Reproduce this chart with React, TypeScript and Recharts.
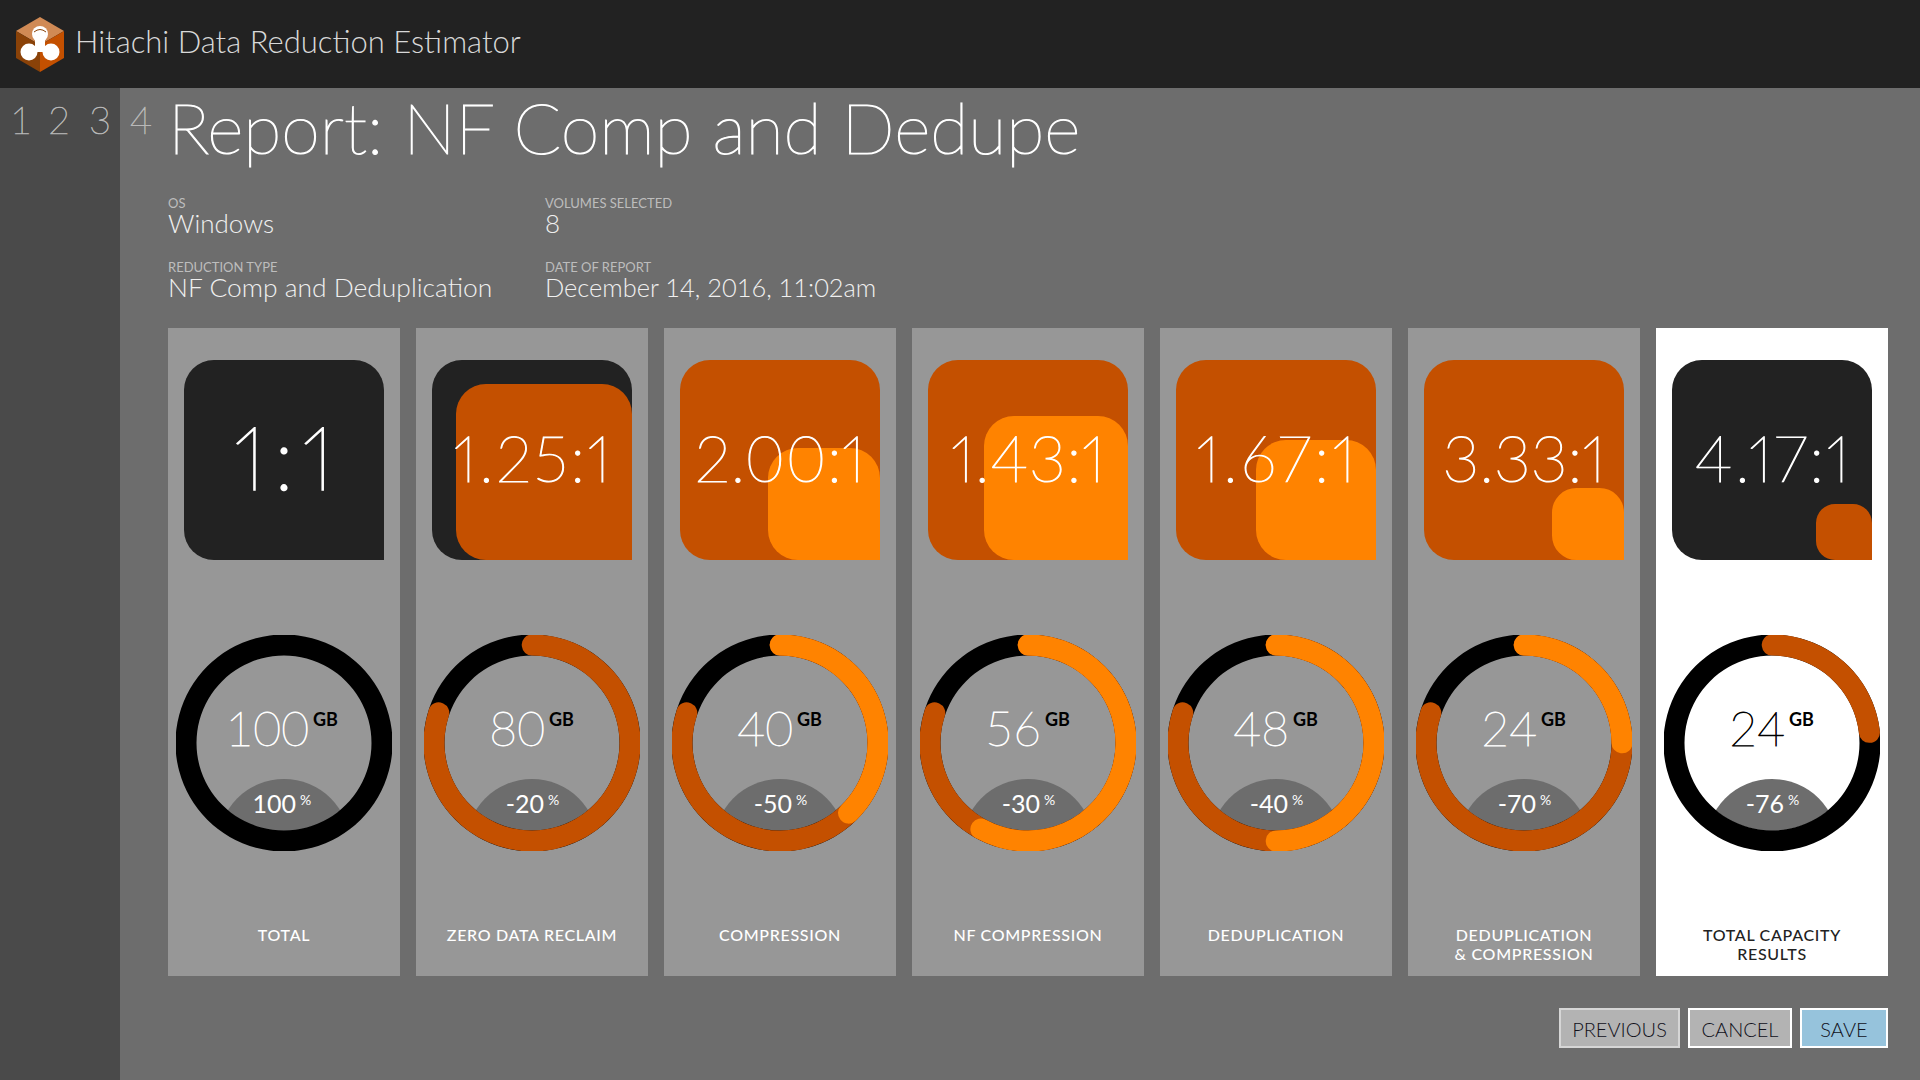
import { BarChart, Bar, XAxis, YAxis, RadialBarChart, RadialBar, PolarAngleAxis, Sector } from 'recharts'

const panelNames = [
  ['TOTAL'],
  ['ZERO DATA RECLAIM'],
  ['COMPRESSION'],
  ['NF COMPRESSION'],
  ['DEDUPLICATION'],
  ['DEDUPLICATION', '& COMPRESSION'],
  ['TOTAL CAPACITY', 'RESULTS'],
]
const ratioLabels = ['1:1', '1.25:1', '2.00:1', '1.43:1', '1.67:1', '3.33:1', '4.17:1']
const gbLabels = ['100', '80', '40', '56', '48', '24', '24']
const pctLabels = ['100', '-20', '-50', '-30', '-40', '-70', '-76']

// square sides, 200 = the whole square
const squareOuter = [200, 200, 200, 200, 200, 200, 200]
const squareInner = [0, 176, 112, 144, 120, 72, 56]

// ring fills in percent of a full turn
const ringBase = [0, 80, 80, 80, 80, 80, 23.3]
const ringTop = [0, 0, 37.7, 58, 50, 25, 0]

const DARK = '#222222'
const ORANGE = '#c45000'
const BRIGHT = '#ff8300'
const PANEL = '#979797'
const MAIN = '#6d6d6d'
const FONT = 'Lato, sans-serif'

const ratioTextWidths = [100, 157, 170, 154, 159, 163, 155]
const stepped = (i: number) => i >= 2 && i <= 5

function SquareShape(props: any) {
  const { x, y, width, height, fill } = props
  const side = height
  if (!side) return null
  const left = x + width - side
  const right = x + width
  const bottom = y + side
  const r = Math.min(30, side * 0.34)
  const d = `M${left + r},${y} L${right - r},${y} A${r},${r} 0 0 1 ${right},${y + r} L${right},${bottom} L${left + r},${bottom} A${r},${r} 0 0 1 ${left},${bottom - r} L${left},${y + r} A${r},${r} 0 0 1 ${left + r},${y} Z`
  return <path d={d} fill={fill} />
}

function RatioSquare({ i }: { i: number }) {
  const row = [{ name: ratioLabels[i], outer: squareOuter[i], inner: squareInner[i] }]
  return (
    <BarChart width={200} height={200} data={row} margin={{ top: 0, right: 0, bottom: 0, left: 0 }} barCategoryGap={0}>
      <XAxis xAxisId="a" dataKey="name" hide />
      <XAxis xAxisId="b" dataKey="name" hide />
      <YAxis domain={[0, 200]} hide />
      <Bar xAxisId="a" dataKey="outer" fill={stepped(i) ? ORANGE : DARK} shape={SquareShape} isAnimationActive={false} />
      <Bar xAxisId="b" dataKey="inner" fill={stepped(i) ? BRIGHT : ORANGE} shape={SquareShape} isAnimationActive={false} />
    </BarChart>
  )
}

const CAP_DEG = 6

function ArcShape(props: any) {
  const { cx, cy, innerRadius, outerRadius, startAngle, endAngle, fill } = props
  return (
    <Sector cx={cx} cy={cy} innerRadius={innerRadius} outerRadius={outerRadius}
      startAngle={startAngle + CAP_DEG} endAngle={endAngle - CAP_DEG} cornerRadius={10.2} fill={fill} />
  )
}

function RingLayer({ value, color, capped }: { value: number; color: string; capped: boolean }) {
  return (
    <div style={{ position: 'absolute', left: 0, top: 0 }}>
      <RadialBarChart width={216} height={216} cx={108} cy={108} innerRadius={87.5} outerRadius={108}
        startAngle={90} endAngle={-270} barCategoryGap={0} data={[{ name: 'gb', value }]}
        margin={{ top: 0, right: 0, bottom: 0, left: 0 }}>
        <PolarAngleAxis type="number" domain={[0, 100]} tick={false} axisLine={false} />
        <RadialBar dataKey="value" fill={color} shape={capped ? ArcShape : undefined} isAnimationActive={false} />
      </RadialBarChart>
    </div>
  )
}

function Panel({ i }: { i: number }) {
  const left = 168 + i * 248
  const last = i === 6
  return (
    <div style={{ position: 'absolute', left, top: 328, width: 232, height: 648, background: last ? '#ffffff' : PANEL }}>
      <div style={{ position: 'absolute', left: 16, top: 32 }}>
        <RatioSquare i={i} />
      </div>
      <div style={{ position: 'absolute', left: 8, top: 307, width: 216, height: 216 }}>
        {/* dome behind the percent */}
        <div style={{ position: 'absolute', left: 20, top: 20, width: 176, height: 176, borderRadius: '50%', overflow: 'hidden' }}>
          <div style={{ position: 'absolute', left: 22, top: 124, width: 132, height: 132, borderRadius: '50%', background: MAIN }} />
        </div>
        <RingLayer value={100} color="#000000" capped={false} />
        {ringBase[i] > 0 && <RingLayer value={ringBase[i]} color={ORANGE} capped />}
        {ringTop[i] > 0 && <RingLayer value={ringTop[i]} color={BRIGHT} capped />}
      </div>
    </div>
  )
}

function PanelText({ i }: { i: number }) {
  const cx = 284 + i * 248
  const last = i === 6
  const main = last ? '#000000' : '#ffffff'
  const big = i === 0
  const gbX = cx + (gbLabels[i].length > 2 ? 29 : 17)
  return (
    <g fontFamily={FONT}>
      <text x={cx} y={big ? 490 : 482} textAnchor="middle" fill="#ffffff" stroke="#ffffff" strokeWidth={big ? 1.4 : 1.1} fontSize={big ? 88 : 64} fontWeight={200}
        textLength={ratioTextWidths[i]} style={{ fontVariantNumeric: 'proportional-nums' }}>{ratioLabels[i]}</text>
      <text x={gbX - 4} y={746} textAnchor="end" fill={main} stroke={main} strokeWidth={0.8} fontSize={48} fontWeight={200}>{gbLabels[i]}</text>
      <text x={gbX} y={726} fill="#000000" fontSize={18} fontWeight={700}>GB</text>
      <text x={cx + 12} y={813} textAnchor="end" fill="#ffffff" fontSize={25} fontWeight={400}>{pctLabels[i]}</text>
      <text x={cx + 16} y={805} fill="#ffffff" fontSize={14} fontWeight={400}>%</text>
      {panelNames[i].map((line, n) => (
        <text key={n} x={cx} y={941 + n * 19} textAnchor="middle" fill={last ? DARK : '#ffffff'} fontSize={16} fontWeight={500} letterSpacing={0.7}>{line}</text>
      ))}
    </g>
  )
}

function Logo() {
  return (
    <svg width={60} height={64} viewBox="0 0 60 64" style={{ position: 'absolute', left: 10, top: 12 }}>
      <polygon points="30,5 54,19 30,33 6,19" fill="#d08a55" />
      <polygon points="6,19 30,33 30,60 6,46" fill="#8a4208" />
      <polygon points="54,19 30,33 30,60 54,46" fill="#c45000" />
      <circle cx="30" cy="22" r="8" fill="#ffffff" />
      <circle cx="19" cy="40" r="8.5" fill="#ffffff" />
      <circle cx="41" cy="40" r="8.5" fill="#ffffff" />
      <rect x="25" y="26" width="10" height="14" fill="#ffffff" />
      <path d="M24,20 Q30,15 36,20" stroke="#8a4208" strokeWidth={1} fill="none" />
    </svg>
  )
}

function Button({ label, left, width, bg, border }: { label: string; left: number; width: number; bg: string; border: string }) {
  return (
    <div style={{ position: 'absolute', left, top: 1008, width, height: 40, boxSizing: 'border-box', background: bg, border: `2px solid ${border}`,
      fontFamily: FONT, fontSize: 20, fontWeight: 300, color: '#10101a', textAlign: 'center', lineHeight: '38px' }}>
      {label}
    </div>
  )
}

export default function App() {
  const idx = ratioLabels.map((_, i) => i)
  return (
    <div style={{ position: 'absolute', left: 0, top: 0, width: 1920, height: 1080, background: MAIN, overflow: 'hidden' }}>
      <div style={{ position: 'absolute', left: 0, top: 0, width: 1920, height: 88, background: DARK }} />
      <div style={{ position: 'absolute', left: 0, top: 88, width: 120, height: 992, background: '#4a4a4a' }} />
      <Logo />
      {idx.map((i) => <Panel key={i} i={i} />)}
      <svg width={1920} height={1080} style={{ position: 'absolute', left: 0, top: 0, pointerEvents: 'none' }}>
        <text x={75} y={53} fill="#d8d8d8" fontFamily={FONT} fontSize={31} fontWeight={300}>Hitachi Data Reduction Estimator</text>
        <g fontFamily={FONT} fontSize={38} fontWeight={200} fill="#b8b8b8" stroke="#b8b8b8" strokeWidth={0.7}>
          <text x={10} y={134}>1</text>
          <text x={48} y={134}>2</text>
          <text x={89} y={134}>3</text>
          <text x={130} y={134}>4</text>
        </g>
        <text x={168} y={154} fill="#ffffff" stroke="#ffffff" strokeWidth={1.2} fontFamily={FONT} fontSize={70} fontWeight={200}>Report: NF Comp and Dedupe</text>
        <g fontFamily={FONT}>
          <g fontSize={13} fill="#bdbdbd" fontWeight={400}>
            <text x={168} y={208}>OS</text>
            <text x={545} y={208}>VOLUMES SELECTED</text>
            <text x={168} y={272}>REDUCTION TYPE</text>
            <text x={545} y={272}>DATE OF REPORT</text>
          </g>
          <g fill="#f0f0f0" fontWeight={300}>
            <text x={168} y={233} fontSize={26}>Windows</text>
            <text x={545} y={233} fontSize={26}>8</text>
            <text x={168} y={297} fontSize={26.4}>NF Comp and Deduplication</text>
            <text x={545} y={297} fontSize={25.4}>December 14, 2016, 11:02am</text>
          </g>
        </g>
        {idx.map((i) => <PanelText key={i} i={i} />)}
      </svg>
      <Button label="PREVIOUS" left={1559} width={121} bg="#b3b3b3" border="#d6d6d6" />
      <Button label="CANCEL" left={1688} width={104} bg="#b3b3b3" border="#ffffff" />
      <Button label="SAVE" left={1800} width={88} bg="#96c3dc" border="#ffffff" />
    </div>
  )
}
